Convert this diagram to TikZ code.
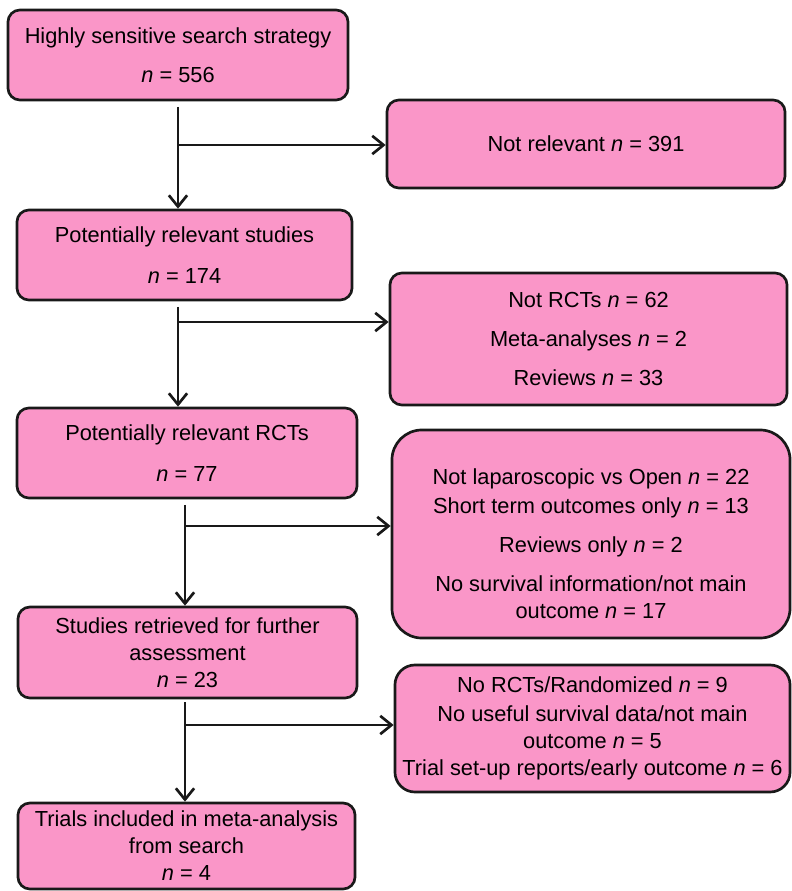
\documentclass[tikz,border=0pt]{standalone}
\usepackage{fontspec}
\setmainfont{Liberation Sans}
\usetikzlibrary{arrows.meta}
\definecolor{boxpink}{RGB}{250,150,200}
\tikzset{
pinkboxv1/.style={rectangle, rounded corners=0.3cm, draw=black!90, fill=boxpink, line width=1.9pt, inner sep=0pt, align=center, font=\fontsize{15.5}{19.2}\selectfont},
pinkboxv2/.style={pinkboxv1, rounded corners=0.75cm},
pinkboxv3/.style={pinkboxv1, rounded corners=0.5cm},
flowline/.style={line width=1.9pt, draw=black!90},
flowarrow/.style={flowline, -{Straight Barb[length=8pt,width=13pt]}},
}
\begin{document}
\begin{tikzpicture}[x=0.025cm, y=-0.025cm]
\useasboundingbox (0,0) rectangle (791,891);

% left column
\node[pinkboxv1, minimum width=8.5cm, minimum height=2.25cm] at (178,55) (b1) {Highly sensitive search strategy\\[8.5pt] \textit{n} = 556};
\node[pinkboxv1, minimum width=8.375cm, minimum height=2.25cm] at (184.5,255) (b2) {Potentially relevant studies\\[9.5pt] \textit{n} = 174};
\node[pinkboxv1, minimum width=8.5cm, minimum height=2.25cm] at (187,453) (b3) {Potentially relevant RCTs\\[9.5pt] \textit{n} = 77};
\node[pinkboxv1, minimum width=8.475cm, minimum height=2.275cm] at (187.5,652.5) (b4) {Studies retrieved for further\\ assessment\\ \textit{n} = 23};
\node[pinkboxv1, minimum width=8.425cm, minimum height=2.15cm] at (186.5,846) (b5) {Trials included in meta-analysis\\ from search\\ \textit{n} = 4};

% excluded
\node[pinkboxv1, minimum width=9.95cm, minimum height=2.2cm] at (586,144) (nr) {Not relevant \textit{n} = 391};
\node[pinkboxv1, minimum width=9.925cm, minimum height=3.3cm] at (588.5,339) (x1) {Not RCTs \textit{n} = 62\\[8.5pt] Meta-analyses \textit{n} = 2\\[8.5pt] Reviews \textit{n} = 33};
\node[pinkboxv2, minimum width=9.95cm, minimum height=5.2cm] at (591,534) (x2) {\rule{0pt}{25pt}Not laparoscopic vs Open \textit{n} = 22\\[2pt] Short term outcomes only \textit{n} = 13\\[8pt] Reviews only \textit{n} = 2\\[9pt] No survival information/not main\\ outcome \textit{n} = 17};
\node[pinkboxv3, minimum width=9.875cm, minimum height=3.175cm] at (592.5,728.5) (x3) {No RCTs/Randomized \textit{n} = 9\\[1pt] No useful survival data/not main\\ outcome \textit{n} = 5\\ Trial set-up reports/early outcome \textit{n} = 6};

\coordinate (j1) at (178,145);
\coordinate (j2) at (178,322);
\coordinate (j3) at (185,526);
\coordinate (j4) at (185,725);

\draw[flowarrow, shorten <=4pt] (b1.south -| j1) -- (b2.north -| j1);
\draw[flowarrow] (j1) -- (nr.west |- j1);
\draw[flowarrow, shorten <=4pt] (b2.south -| j2) -- (b3.north -| j2);
\draw[flowarrow] (j2) -- (x1.west |- j2);
\draw[flowarrow, shorten <=4pt] (b3.south -| j3) -- (b4.north -| j3);
\draw[flowarrow] (j3) -- (x2.west |- j3);
\draw[flowarrow, shorten <=2pt] (b4.south -| j4) -- (b5.north -| j4);
\draw[flowarrow] (j4) -- (x3.west |- j4);

\end{tikzpicture}
\end{document}
